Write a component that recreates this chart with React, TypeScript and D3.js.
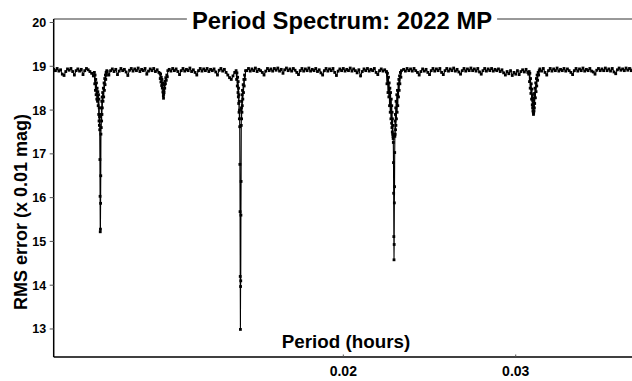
import React, { useLayoutEffect, useRef, useState } from 'react';
import * as d3 from 'd3';

// Trial period (hours) of each fit in the spectrum
const periods = [
  // 0.0032 – 0.0055
  0.0032, 0.0033, 0.0034, 0.0035, 0.0036, 0.0037, 0.0038, 0.0039, 0.0040, 0.0041,
  0.0042, 0.0043, 0.0044, 0.0045, 0.0046, 0.0047, 0.0048, 0.0049, 0.0050, 0.0051,
  0.0052, 0.0053, 0.0054, 0.0055,
  // first deep minimum
  0.00556, 0.00558, 0.00560, 0.00562, 0.00564, 0.00566, 0.00568, 0.00570, 0.00572, 0.00574,
  0.00576, 0.00578, 0.00580, 0.00581, 0.00582, 0.00583, 0.00584, 0.00585, 0.00586, 0.00587,
  0.00588, 0.00589, 0.00590, 0.00591, 0.00592, 0.00593, 0.00594, 0.00595, 0.00596, 0.00597,
  0.00598, 0.00599, 0.00600, 0.00601, 0.00602, 0.00604, 0.00606, 0.00608, 0.00610, 0.00612,
  0.00614, 0.00616, 0.00618, 0.00620, 0.00622, 0.00624, 0.00626, 0.00628, 0.00630,
  // 0.0064 – 0.0093
  0.0064, 0.0065, 0.0066, 0.0067, 0.0068, 0.0069, 0.0070, 0.0071, 0.0072, 0.0073,
  0.0074, 0.0075, 0.0076, 0.0077, 0.0078, 0.0079, 0.0080, 0.0081, 0.0082, 0.0083,
  0.0084, 0.0085, 0.0086, 0.0087, 0.0088, 0.0089, 0.0090, 0.0091, 0.0092, 0.0093,
  // shallow minimum
  0.00936, 0.00938, 0.00940, 0.00942, 0.00944, 0.00946, 0.00948, 0.00950, 0.00952, 0.00954,
  0.00955, 0.00956, 0.00957, 0.00958, 0.00959, 0.00960, 0.00962, 0.00964, 0.00966, 0.00968,
  0.00970, 0.00973, 0.00976, 0.00979, 0.00982,
  // 0.0099 – 0.0137
  0.0099, 0.0100, 0.0101, 0.0102, 0.0103, 0.0104, 0.0105, 0.0106, 0.0107, 0.0108,
  0.0109, 0.0110, 0.0111, 0.0112, 0.0113, 0.0114, 0.0115, 0.0116, 0.0117, 0.0118,
  0.0119, 0.0120, 0.0121, 0.0122, 0.0123, 0.0124, 0.0125, 0.0126, 0.0127, 0.0128,
  0.0129, 0.0130, 0.0131, 0.0132, 0.0133, 0.0134, 0.0135, 0.0136, 0.0137,
  // best-fit minimum
  0.01378, 0.01381, 0.01383, 0.01385, 0.01387, 0.01389, 0.01390, 0.01391, 0.01392, 0.01393,
  0.01394, 0.01395, 0.01396, 0.01397, 0.01398, 0.01399, 0.01400, 0.01401, 0.01402, 0.01403,
  0.01404, 0.01405, 0.01406, 0.01407, 0.01408, 0.01409, 0.01410, 0.01411, 0.01412, 0.01413,
  0.01414, 0.01415, 0.01417, 0.01419, 0.01421, 0.01423, 0.01425, 0.01427, 0.01430, 0.01433,
  // 0.0144 – 0.0225
  0.0144, 0.0145, 0.0146, 0.0147, 0.0148, 0.0149, 0.0150, 0.0151, 0.0152, 0.0153,
  0.0154, 0.0155, 0.0156, 0.0157, 0.0158, 0.0159, 0.0160, 0.0161, 0.0162, 0.0163,
  0.0164, 0.0165, 0.0166, 0.0167, 0.0168, 0.0169, 0.0170, 0.0171, 0.0172, 0.0173,
  0.0174, 0.0175, 0.0176, 0.0177, 0.0178, 0.0179, 0.0180, 0.0181, 0.0182, 0.0183,
  0.0184, 0.0185, 0.0186, 0.0187, 0.0188, 0.0189, 0.0190, 0.0191, 0.0192, 0.0193,
  0.0194, 0.0195, 0.0196, 0.0197, 0.0198, 0.0199, 0.0200, 0.0201, 0.0202, 0.0203,
  0.0204, 0.0205, 0.0206, 0.0207, 0.0208, 0.0209, 0.0210, 0.0211, 0.0212, 0.0213,
  0.0214, 0.0215, 0.0216, 0.0217, 0.0218, 0.0219, 0.0220, 0.0221, 0.0222, 0.0223,
  0.0224, 0.0225,
  // second deep minimum
  0.02250, 0.02253, 0.02256, 0.02259, 0.02262, 0.02264, 0.02266, 0.02268, 0.02270, 0.02272,
  0.02274, 0.02276, 0.02278, 0.02280, 0.02281, 0.02282, 0.02283, 0.02284, 0.02285, 0.02286,
  0.02287, 0.02288, 0.02289, 0.02290, 0.02291, 0.02292, 0.02293, 0.02294, 0.02295, 0.02296,
  0.02297, 0.02298, 0.02299, 0.02300, 0.02301, 0.02302, 0.02303, 0.02304, 0.02305, 0.02306,
  0.02308, 0.02310, 0.02312, 0.02314, 0.02316, 0.02318, 0.02320, 0.02322, 0.02324, 0.02326,
  0.02328, 0.02331, 0.02334, 0.02337,
  // 0.0235 – 0.0307
  0.0235, 0.0236, 0.0237, 0.0238, 0.0239, 0.0240, 0.0241, 0.0242, 0.0243, 0.0244,
  0.0245, 0.0246, 0.0247, 0.0248, 0.0249, 0.0250, 0.0251, 0.0252, 0.0253, 0.0254,
  0.0255, 0.0256, 0.0257, 0.0258, 0.0259, 0.0260, 0.0261, 0.0262, 0.0263, 0.0264,
  0.0265, 0.0266, 0.0267, 0.0268, 0.0269, 0.0270, 0.0271, 0.0272, 0.0273, 0.0274,
  0.0275, 0.0276, 0.0277, 0.0278, 0.0279, 0.0280, 0.0281, 0.0282, 0.0283, 0.0284,
  0.0285, 0.0286, 0.0287, 0.0288, 0.0289, 0.0290, 0.0291, 0.0292, 0.0293, 0.0294,
  0.0295, 0.0296, 0.0297, 0.0298, 0.0299, 0.0300, 0.0301, 0.0302, 0.0303, 0.0304,
  0.0305, 0.0306, 0.0307,
  // minimum near 0.031 h
  0.03075, 0.03078, 0.03080, 0.03082, 0.03084, 0.03086, 0.03088, 0.03090, 0.03092, 0.03094,
  0.03096, 0.03097, 0.03098, 0.03099, 0.03100, 0.03101, 0.03102, 0.03103, 0.03104, 0.03105,
  0.03106, 0.03107, 0.03108, 0.03109, 0.03110, 0.03112, 0.03114, 0.03116, 0.03118, 0.03120,
  0.03122, 0.03124, 0.03127, 0.03130, 0.03133, 0.03136,
  // 0.0314 – 0.0370
  0.0314, 0.0315, 0.0316, 0.0317, 0.0318, 0.0319, 0.0320, 0.0321, 0.0322, 0.0323,
  0.0324, 0.0325, 0.0326, 0.0327, 0.0328, 0.0329, 0.0330, 0.0331, 0.0332, 0.0333,
  0.0334, 0.0335, 0.0336, 0.0337, 0.0338, 0.0339, 0.0340, 0.0341, 0.0342, 0.0343,
  0.0344, 0.0345, 0.0346, 0.0347, 0.0348, 0.0349, 0.0350, 0.0351, 0.0352, 0.0353,
  0.0354, 0.0355, 0.0356, 0.0357, 0.0358, 0.0359, 0.0360, 0.0361, 0.0362, 0.0363,
  0.0364, 0.0365, 0.0366, 0.0367, 0.0368, 0.0369, 0.0370,
];

// RMS residual of each fit (x 0.01 mag), same order as periods
const rmsError = [
  18.93, 18.90, 18.95, 18.89, 18.92, 18.82, 18.79, 18.88, 18.94, 18.91,
  18.95, 18.88, 18.80, 18.90, 18.94, 18.89, 18.93, 18.81, 18.90, 18.95,
  18.92, 18.88, 18.84, 18.78,

  18.86, 18.60, 18.80, 18.45, 18.70, 18.35, 18.62, 18.25, 18.50, 18.20,
  18.42, 18.10, 18.35, 17.90, 18.25, 17.75, 18.05, 17.65, 17.85, 17.55,
  16.87, 16.03, 15.22, 15.28, 15.87, 16.50, 17.45, 17.90, 17.60, 18.05,
  17.75, 18.20, 17.90, 18.30, 18.05, 18.40, 18.20, 18.50, 18.30, 18.62,
  18.45, 18.72, 18.58, 18.80, 18.70, 18.86, 18.80, 18.90, 18.88,

  18.80, 18.90, 18.94, 18.88, 18.93, 18.81, 18.89, 18.95, 18.90, 18.93,
  18.87, 18.79, 18.91, 18.95, 18.89, 18.94, 18.90, 18.96, 18.88, 18.93,
  18.90, 18.95, 18.82, 18.89, 18.94, 18.90, 18.95, 18.88, 18.92, 18.86,

  18.84, 18.72, 18.82, 18.64, 18.75, 18.56, 18.70, 18.50, 18.62, 18.42,
  18.40, 18.33, 18.27, 18.36, 18.45, 18.40, 18.58, 18.50, 18.66, 18.60,
  18.74, 18.68, 18.80, 18.76, 18.90,

  18.93, 18.89, 18.95, 18.90, 18.94, 18.88, 18.81, 18.90, 18.95, 18.89,
  18.93, 18.90, 18.96, 18.88, 18.92, 18.86, 18.80, 18.90, 18.95, 18.89,
  18.94, 18.90, 18.95, 18.88, 18.93, 18.90, 18.94, 18.87, 18.80, 18.91,
  18.95, 18.89, 18.93, 18.86, 18.80, 18.74, 18.70, 18.78, 18.86,

  18.90, 18.70, 18.85, 18.55, 18.75, 18.40, 18.65, 18.30, 18.50, 18.15,
  18.35, 17.95, 18.20, 17.80, 18.00, 17.62, 16.76, 15.68, 14.20, 12.99,
  13.97, 14.10, 15.60, 16.37, 17.65, 18.05, 17.80, 18.20, 17.95, 18.35,
  18.10, 18.45, 18.25, 18.58, 18.40, 18.70, 18.55, 18.80, 18.70, 18.90,

  18.90, 18.95, 18.89, 18.94, 18.90, 18.96, 18.88, 18.93, 18.90, 18.86,
  18.80, 18.89, 18.95, 18.90, 18.94, 18.89, 18.95, 18.91, 18.96, 18.89,
  18.93, 18.84, 18.92, 18.96, 18.90, 18.94, 18.89, 18.95, 18.91, 18.86,
  18.81, 18.90, 18.95, 18.89, 18.94, 18.90, 18.96, 18.89, 18.93, 18.90,
  18.95, 18.88, 18.92, 18.85, 18.80, 18.90, 18.95, 18.89, 18.94, 18.90,
  18.95, 18.86, 18.79, 18.89, 18.94, 18.90, 18.95, 18.89, 18.93, 18.90,
  18.96, 18.89, 18.94, 18.90, 18.85, 18.92, 18.78, 18.88, 18.94, 18.90,
  18.95, 18.89, 18.93, 18.90, 18.95, 18.86, 18.81, 18.90, 18.94, 18.89,
  18.92, 18.87,

  18.88, 18.60, 18.84, 18.40, 18.75, 18.30, 18.62, 18.10, 18.50, 17.95,
  18.40, 17.80, 18.25, 17.70, 18.10, 17.60, 17.95, 17.50, 17.80, 17.45,
  17.65, 17.40, 17.35, 17.26, 16.80, 16.10, 15.11, 14.58, 14.93, 15.88,
  16.25, 17.03, 17.40, 17.75, 17.45, 17.90, 17.55, 18.05, 17.65, 18.20,
  17.80, 18.35, 17.95, 18.45, 18.10, 18.60, 18.30, 18.70, 18.45, 18.78,
  18.60, 18.86, 18.75, 18.90,

  18.93, 18.89, 18.95, 18.90, 18.94, 18.89, 18.95, 18.90, 18.86, 18.80,
  18.88, 18.94, 18.89, 18.93, 18.86, 18.81, 18.90, 18.95, 18.89, 18.94,
  18.90, 18.95, 18.86, 18.81, 18.90, 18.95, 18.89, 18.94, 18.90, 18.96,
  18.89, 18.93, 18.87, 18.82, 18.90, 18.95, 18.89, 18.94, 18.90, 18.96,
  18.90, 18.94, 18.89, 18.95, 18.87, 18.82, 18.90, 18.95, 18.89, 18.94,
  18.90, 18.95, 18.89, 18.93, 18.90, 18.94, 18.88, 18.92, 18.85, 18.80,
  18.88, 18.83, 18.90, 18.79, 18.86, 18.82, 18.90, 18.81, 18.88, 18.92,
  18.87, 18.93, 18.86,

  18.82, 18.88, 18.65, 18.84, 18.50, 18.72, 18.38, 18.60, 18.25, 18.48,
  18.12, 18.35, 18.05, 18.22, 17.98, 18.10, 17.95, 17.90, 17.93, 18.15,
  17.98, 18.28, 18.05, 18.38, 18.15, 18.50, 18.28, 18.62, 18.42, 18.72,
  18.55, 18.80, 18.68, 18.86, 18.80, 18.90,

  18.94, 18.89, 18.95, 18.86, 18.80, 18.90, 18.95, 18.89, 18.94, 18.90,
  18.96, 18.89, 18.93, 18.90, 18.95, 18.89, 18.94, 18.90, 18.86, 18.81,
  18.90, 18.95, 18.89, 18.94, 18.90, 18.96, 18.89, 18.93, 18.90, 18.95,
  18.89, 18.87, 18.82, 18.91, 18.95, 18.90, 18.94, 18.90, 18.96, 18.90,
  18.94, 18.89, 18.95, 18.87, 18.83, 18.92, 18.96, 18.91, 18.94, 18.90,
  18.96, 18.91, 18.95, 18.90, 18.94, 18.91, 18.95,
];

const yTicks = [13, 14, 15, 16, 17, 18, 19, 20];
const xTicks = [0.02, 0.03];

const chartTitle = 'Period Spectrum: 2022 MP';
const xTitle = 'Period (hours)';
const yTitle = 'RMS error (x 0.01 mag)';

const FONT = '"Liberation Sans", Arial, Helvetica, sans-serif';

export default function App() {
  const width = 632;
  const height = 381;
  const left = 53.7;
  const top = 19;
  const bottom = 357;

  const x = d3.scaleLinear().domain([0.0032, 0.037]).range([left, 636.4]);
  const y = d3.scaleLinear().domain([12.36, 20.08]).range([bottom, top]);

  const n = Math.min(periods.length, rmsError.length);
  const points: [number, number][] = d3.range(n).map((i) => [periods[i], rmsError[i]]);

  const line = d3
    .line<[number, number]>()
    .x((d) => x(d[0]))
    .y((d) => y(d[1]));

  const titleRef = useRef<SVGTextElement>(null);
  const [titleWidth, setTitleWidth] = useState(300);
  useLayoutEffect(() => {
    if (titleRef.current) setTitleWidth(titleRef.current.getComputedTextLength());
  }, []);

  const titleX = 342;
  const gap = 5;
  const marker = 2.8;

  return (
    <svg
      width={width}
      height={height}
      style={{ position: 'absolute', left: 0, top: 0, background: '#fff' }}
      fontFamily={FONT}
    >
      <defs>
        <clipPath id="plot-clip">
          <rect x={left} y={top} width={width - left} height={bottom - top} />
        </clipPath>
      </defs>

      {/* frame: top rule interrupted by the title */}
      <line x1={left} x2={titleX - titleWidth / 2 - gap} y1={top} y2={top} stroke="#333" strokeWidth={1} />
      <line x1={titleX + titleWidth / 2 + gap} x2={width} y1={top} y2={top} stroke="#333" strokeWidth={1} />
      <line x1={left} x2={left} y1={top} y2={bottom} stroke="#000" strokeWidth={1.5} />
      <line x1={left} x2={width} y1={bottom} y2={bottom} stroke="#000" strokeWidth={1.5} />

      {/* y axis ticks */}
      {yTicks.map((t) => (
        <g key={t}>
          <line x1={left - 4} x2={left} y1={y(t)} y2={y(t)} stroke="#555" strokeWidth={1} />
          <text
            x={left - 7.5}
            y={y(t)}
            dy="0.36em"
            textAnchor="end"
            fontSize={12.5}
            fontWeight="bold"
            fill="#000"
          >
            {t}
          </text>
        </g>
      ))}

      {/* x axis ticks */}
      {xTicks.map((t) => (
        <g key={t}>
          <line x1={x(t)} x2={x(t)} y1={bottom - 2.5} y2={bottom} stroke="#555" strokeWidth={1} />
          <text x={x(t)} y={376} textAnchor="middle" fontSize={14} fontWeight="bold" fill="#000">
            {d3.format('.2f')(t)}
          </text>
        </g>
      ))}

      {/* spectrum */}
      <g clipPath="url(#plot-clip)">
        <path d={line(points) ?? ''} fill="none" stroke="#000" strokeWidth={1.1} />
        {points.map((d, i) => (
          <rect
            key={i}
            x={x(d[0]) - marker / 2}
            y={y(d[1]) - marker / 2}
            width={marker}
            height={marker}
            fill="#000"
          />
        ))}
      </g>

      {/* titles */}
      <text
        ref={titleRef}
        x={titleX}
        y={28.5}
        textAnchor="middle"
        fontSize={23.8}
        fontWeight="bold"
        fill="#000"
      >
        {chartTitle}
      </text>
      <text x={346} y={348} textAnchor="middle" fontSize={18.8} fontWeight="bold" fill="#000">
        {xTitle}
      </text>
      <text
        transform={`translate(27,212) rotate(-90)`}
        textAnchor="middle"
        fontSize={18}
        fontWeight="bold"
        fill="#000"
      >
        {yTitle}
      </text>
    </svg>
  );
}
